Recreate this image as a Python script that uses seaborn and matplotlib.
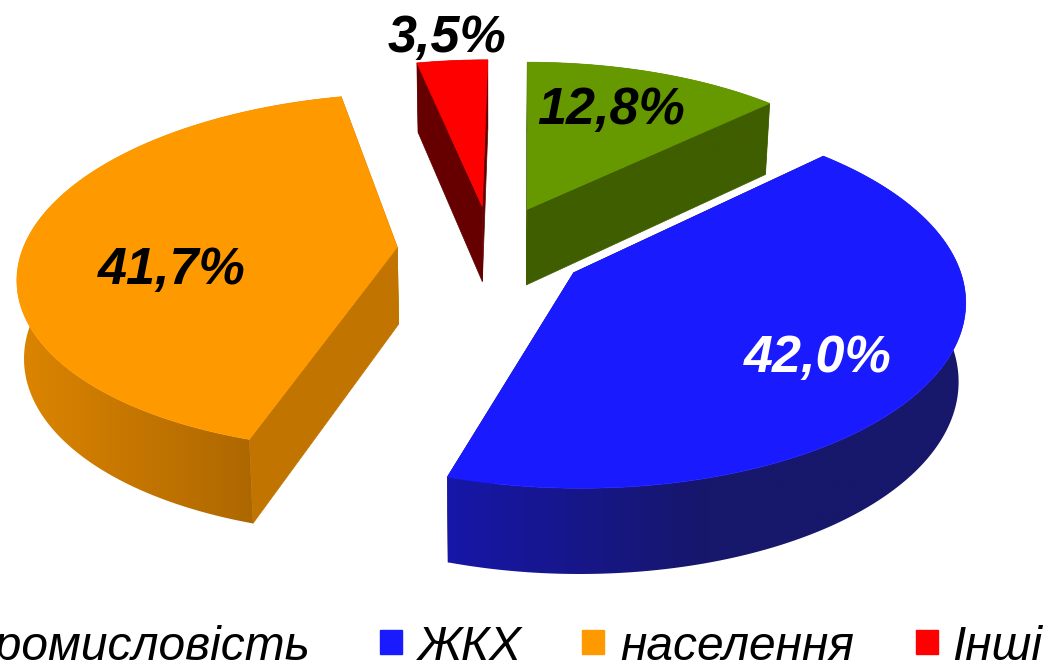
import numpy as np
import matplotlib
matplotlib.use("Agg")
import matplotlib.pyplot as plt
from matplotlib.patches import Polygon, Rectangle
import seaborn as sns

# data
categories = ["Промисловість", "ЖКХ", "населення", "Інші"]
shares = [12.8, 42.0, 41.7, 3.5]

# colours
top_colors = ["#669900", "#1A1AFF", "#FF9900", "#FF0000"]
cut_colors = ["#3F5E00", "#17176B", "#C27400", "#660000"]
wall_stops = [["#3F5E00", "#3F5E00"],
              ["#1616A8", "#17176B", "#17176B"],
              ["#DD8500", "#AD6700"],
              ["#660000", "#660000"]]
wall_span = [(520, 780), (449, 966), (15, 255), (410, 490)]
label_colors = ["black", "white", "black", "black"]
label_xy = [(611, 111), (818, 359), (172, 271), (447, 39)]

# legend placement, pixels
legend_box_x = [-45, 380, 582, 916]
legend_text_x = [310, 418, 620, 952]
legend_text_ha = ["right", "left", "left", "left"]

# projection of the tilted pie, pixels
X0, Y0 = 492, 249
SX, SY = 380, 178
PERSP = 0.14
DEPTH = 77
EXPLODE = 0.25
SHEAR = 0.03
slice_radius = [1.0, 1.0, 0.985, 1.0]
slice_nudge = [-2, 0, 0, -1]


def project(u, v, z=0.0, nudge=0):
    w = 1 + PERSP * v
    y = Y0 - SY * v / w
    x = X0 + SX * u / w - SHEAR * (y - Y0)
    x = X0 + (x - X0) * (1 - 0.015 * z) + nudge
    y = y + DEPTH * z / (1 + 0.09 * v)
    return x, y


sns.set_theme(style="white")
plt.rcParams["font.family"] = ["Liberation Sans", "DejaVu Sans"]

fig = plt.figure(figsize=(10.5, 6.66), dpi=100)
ax = fig.add_axes([0, 0, 1, 1])
ax.axis("off")

edges = np.concatenate([[0], np.cumsum(shares)]) / np.sum(shares) * 2 * np.pi

for i in range(len(shares)):
    start, end = edges[i], edges[i + 1]
    mid = (start + end) / 2
    r = slice_radius[i]
    n = slice_nudge[i]
    cu, cv = EXPLODE * np.sin(mid), EXPLODE * np.cos(mid)
    th = np.linspace(start, end, 161)
    uu = cu + r * np.sin(th)
    vv = cv + r * np.cos(th)

    # straight cut walls
    for a in (start, end):
        eu, ev = cu + r * np.sin(a), cv + r * np.cos(a)
        p = [project(cu, cv, 0, n), project(eu, ev, 0, n),
             project(eu, ev, 1, n), project(cu, cv, 1, n)]
        ax.fill(*zip(*p), color=cut_colors[i], lw=0.5, zorder=2)

    # rim, shaded from left to right
    xt, yt = project(uu, vv, 0, n)
    xb, yb = project(uu, vv, 1, n)
    rim = Polygon(np.c_[np.r_[xt, xb[::-1]], np.r_[yt, yb[::-1]]],
                  closed=True, transform=ax.transData, fc="none", ec="none")
    ax.add_patch(rim)
    cmap = sns.blend_palette(wall_stops[i], as_cmap=True)
    lo, hi = wall_span[i]
    left = min(lo, xt.min(), xb.min())
    right = max(hi, xt.max(), xb.max())
    grad = np.clip((np.linspace(left, right, 512) - lo) / (hi - lo), 0, 1).reshape(1, -1)
    im = ax.imshow(grad, cmap=cmap, vmin=0, vmax=1, aspect="auto", zorder=3,
                   extent=(left, right, yb.max() + 2, yt.min() - 2))
    im.set_clip_path(rim)

    # top face
    apex = project(cu, cv, 0, n)
    ax.fill(np.r_[apex[0], xt], np.r_[apex[1], yt],
            color=top_colors[i], lw=0.5, zorder=4)

    label = f"{shares[i]:.1f}".replace(".", ",") + "%"
    ax.text(*label_xy[i], label, color=label_colors[i], fontsize=37.5,
            fontweight="bold", fontstyle="italic", ha="center", va="center", zorder=6)

    # legend entry
    ax.add_patch(Rectangle((legend_box_x[i], 630), 22, 24, color=top_colors[i], zorder=6))
    ax.text(legend_text_x[i], 660, categories[i], color="black", fontsize=34.5,
            fontstyle="italic", ha=legend_text_ha[i], va="baseline", zorder=6)

ax.set_xlim(0, 1050)
ax.set_ylim(666, 0)

fig.savefig("out.png", dpi=100)
